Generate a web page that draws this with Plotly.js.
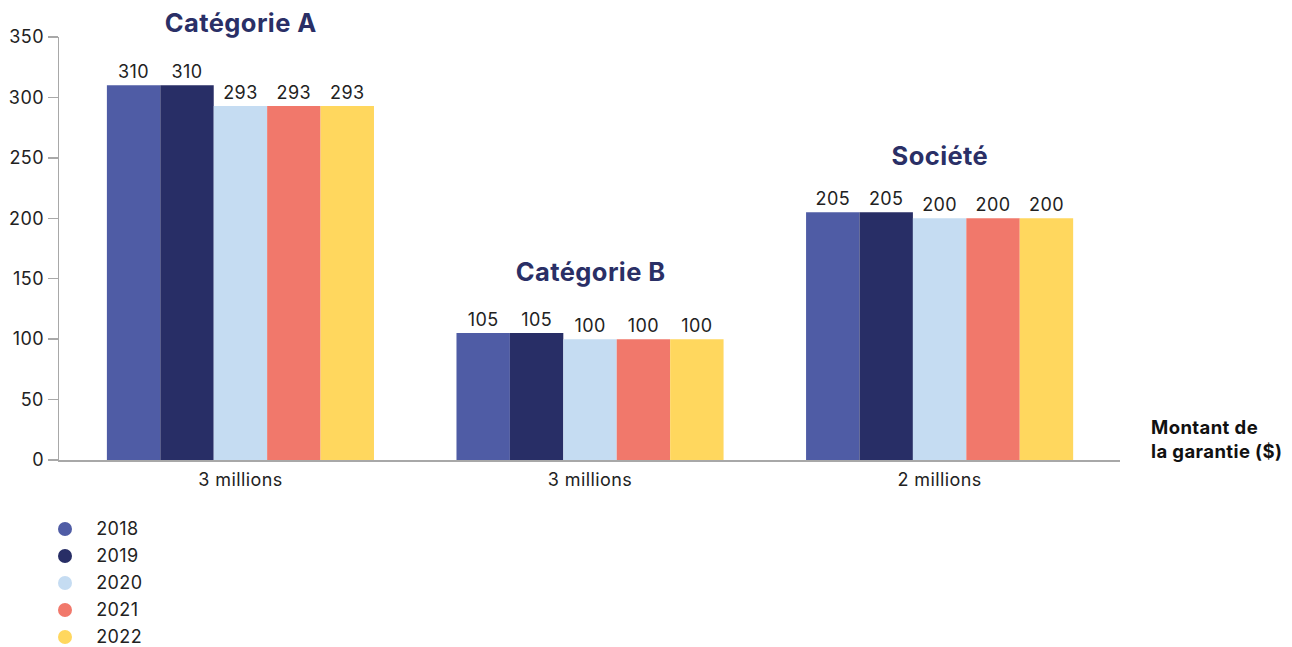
<!DOCTYPE html>
<html><head><meta charset="utf-8">
<script src="https://cdn.plot.ly/plotly-3.0.1.min.js"></script>
<style>html,body{margin:0;padding:0;background:#fff}#chart{width:1292px;height:647px}
#chart text{letter-spacing:0.4px}</style>
</head><body><div id="chart"></div>
<script>
const groups = ["Catégorie A", "Catégorie B", "Société"];
const tickLabels = ["3 millions", "3 millions", "2 millions"];
const years = ["2018", "2019", "2020", "2021", "2022"];
const v2018 = [310, 105, 205];
const v2019 = [310, 105, 205];
const v2020 = [293, 100, 200];
const v2021 = [293, 100, 200];
const v2022 = [293, 100, 200];
const colors = ["#4f5ca5", "#282e66", "#c5dcf2", "#f1786b", "#ffd75e"];

const series = [v2018, v2019, v2020, v2021, v2022];
const xIdx = groups.map((g, i) => i);
const font = "Inter, 'Noto Sans', sans-serif";
// group title heights in paper fraction of plot area
const titleY = [1.035, 0.445, 0.72];

const traces = series.map((vals, k) => ({
  type: "bar", x: xIdx, y: vals, name: years[k], showlegend: false,
  marker: {color: colors[k], line: {width: 0}},
  text: vals.map(String), textposition: "outside", cliponaxis: false,
  textfont: {family: font, size: 18, color: "#222"},
  hoverinfo: "y"
}));

const annotations = groups.map((g, i) => ({
  x: i, y: titleY[i], xref: "x", yref: "paper", text: "<b>" + g + "</b>",
  showarrow: false, font: {family: font, size: 25.5, color: "#2a2f66", weight: 900},
  xanchor: "center", yanchor: "middle"
}));
annotations.push({
  xref: "paper", yref: "paper", x: 1.027, y: 0.05, xanchor: "left", yanchor: "middle",
  align: "left", showarrow: false,
  text: "<b>Montant de<br>la garantie ($)</b>",
  font: {family: font, size: 18.5, color: "#111", weight: 900}
});
annotations.push({
  xref: "paper", yref: "paper", x: -0.058, y: 1, yshift: 41, xanchor: "left", yanchor: "bottom",
  align: "left", showarrow: false, text: "<b>Prime ($)</b>",
  font: {family: font, size: 17, color: "#111"}
});

// legend drawn as circles + labels below the plot
const legX = 0.00566, legTextX = 0.0339, legY0 = -0.1631, legStep = 0.06383;
const shapes = [];
years.forEach((yr, k) => {
  const yy = legY0 - k * legStep;
  shapes.push({
    type: "circle", xref: "paper", yref: "paper", xsizemode: "pixel", ysizemode: "pixel",
    xanchor: legX, yanchor: yy, x0: -7, x1: 7, y0: -7, y1: 7,
    fillcolor: colors[k], line: {width: 0}
  });
  annotations.push({
    xref: "paper", yref: "paper", x: legTextX, y: yy, xanchor: "left", yanchor: "middle",
    showarrow: false, text: yr, font: {family: font, size: 18, color: "#222"}
  });
});

const layout = {
  width: 1292, height: 647,
  margin: {l: 59, r: 172, t: 37, b: 187, pad: 0, autoexpand: false},
  paper_bgcolor: "#fff", plot_bgcolor: "#fff",
  barmode: "group", bargap: 0.236, bargroupgap: 0,
  font: {family: font, size: 18, color: "#222"},
  xaxis: {
    range: [-0.519, 2.516], tickvals: xIdx, ticktext: tickLabels,
    showline: true, linecolor: "#a8a8a8", linewidth: 1.5,
    ticks: "outside", ticklen: 3, tickcolor: "rgba(0,0,0,0)", showgrid: false,
    zeroline: false, tickfont: {family: font, size: 18, color: "#222"}, fixedrange: true,
    automargin: false
  },
  yaxis: {
    range: [0, 350], dtick: 50, showline: true, linecolor: "#a8a8a8", linewidth: 1.5,
    ticks: "outside", ticklen: 10, tickcolor: "#a8a8a8", tickwidth: 1.5, showgrid: false,
    zeroline: false, tickfont: {family: font, size: 18, color: "#222"}, fixedrange: true,
    automargin: false
  },
  annotations: annotations,
  shapes: shapes,
  showlegend: false
};

Plotly.newPlot("chart", traces, layout, {displayModeBar: false, staticPlot: true});
</script></body></html>
